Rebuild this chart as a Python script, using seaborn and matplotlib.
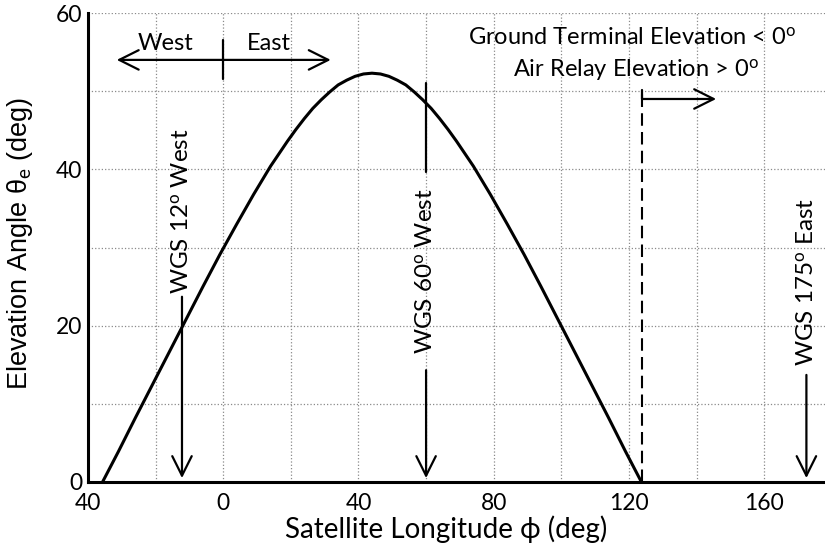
import matplotlib
matplotlib.use("Agg")
import matplotlib.pyplot as plt
import seaborn as sns

# ---- data ----
longitude = [-35.7, -31, -26, -21, -16, -11, -6, -1, 4, 9, 14, 19, 21.5, 24, 26.5, 29, 31.5, 34, 36.5,
             39, 41.5, 44, 46.5, 49, 51.5, 54, 56.5, 59, 61.5, 64, 66.5, 69, 74, 79, 84, 89, 94, 99,
             104, 109, 114, 119, 123.7]
elevation = [0, 3.9, 8.2, 12.4, 16.6, 20.8, 25.0, 29.1, 33.0, 36.8, 40.4, 43.6, 45.1, 46.5, 47.8, 48.9,
             49.9, 50.8, 51.4, 51.9, 52.2, 52.3, 52.2, 51.9, 51.4, 50.8, 49.9, 48.9, 47.8, 46.5, 45.1,
             43.6, 40.4, 36.8, 33.0, 29.1, 25.0, 20.8, 16.6, 12.4, 8.2, 3.9, 0]

x_ticks = [-40, -20, 0, 20, 40, 60, 80, 100, 120, 140, 160]
x_tick_labels = ["40", "", "0", "", "40", "", "80", "", "120", "", "160"]
y_ticks = [0, 10, 20, 30, 40, 50, 60]
y_tick_labels = ["0", "", "20", "", "40", "", "60"]

sat_names = ["WGS 12$^\\mathrm{o}$ West", "WGS 60$^\\mathrm{o}$ West", "WGS 175$^\\mathrm{o}$ East"]
sat_lon = [-12.2, 60, 172.5]
sat_text_bottom = [24.0, 16.4, 14.8]
sat_arrow_top = [23.7, 14.3, 13.7]
wgs60_marker = [39.7, 51.0]

horizon_lon = 123.9
horizon_top = 50.2
relay_arrow = [123.9, 145.8, 49.0]
we_arrow = [-31.5, 31.8, 54.0]
we_divider = [51.5, 56.5]

# ---- style ----
sns.set_theme(style="white")
plt.rcParams["font.family"] = ["Lato", "DejaVu Sans"]
plt.rcParams["mathtext.fontset"] = "custom"
plt.rcParams["mathtext.rm"] = "Lato"
plt.rcParams["mathtext.it"] = "Lato:italic"

fig = plt.figure(figsize=(8.25, 5.46), dpi=100)
ax = fig.add_axes([88 / 825, 1 - 482 / 546, (825 - 88) / 825, (482 - 13) / 546])

sns.lineplot(x=longitude, y=elevation, ax=ax, color="black", lw=2.2, sort=False)

ax.set_xlim(-40, 178)
ax.set_ylim(0, 60)
ax.set_xticks(x_ticks)
ax.set_xticklabels(x_tick_labels)
ax.set_yticks(y_ticks)
ax.set_yticklabels(y_tick_labels)
ax.grid(True, linestyle=":", color="#8a8a8a", lw=0.9)
ax.set_axisbelow(True)
for s in ["top", "right"]:
    ax.spines[s].set_visible(False)
for s in ["left", "bottom"]:
    ax.spines[s].set_color("black")
    ax.spines[s].set_linewidth(2.2)
ax.tick_params(direction="in", length=6, width=2, colors="black", labelsize=16.5, pad=4)
ax.tick_params(axis="x", pad=8)

ax.set_xlabel("Satellite Longitude ϕ (deg)", fontsize=20, color="black")
ax.xaxis.set_label_coords((446 - 88) / (825 - 88), -(529 - 482) / (482 - 13), transform=ax.transAxes)
ax.xaxis.label.set_va("center")
ax.set_ylabel("Elevation Angle θ$_\\mathrm{e}$ (deg)", fontsize=19.5,
              family=["Liberation Sans", "DejaVu Sans"], color="black")
ax.yaxis.set_label_coords(-(88 - 20) / (825 - 88), (482 - 243) / (482 - 13), transform=ax.transAxes)
ax.yaxis.label.set_va("center")

arrow_kw = dict(arrowstyle="->,head_length=0.7,head_width=0.35", lw=1.6, color="black",
                mutation_scale=20, shrinkA=0, shrinkB=0)

# West / East arrow
ax.annotate("", xy=(we_arrow[0], we_arrow[2]), xytext=(0, we_arrow[2]), arrowprops=arrow_kw)
ax.annotate("", xy=(we_arrow[1], we_arrow[2]), xytext=(0, we_arrow[2]), arrowprops=arrow_kw)
ax.plot([0, 0], we_divider, color="black", lw=1.6)
ax.text(-17, 54.8, "West", fontsize=17, ha="center", va="bottom", color="black")
ax.text(13.5, 54.8, "East", fontsize=17, ha="center", va="bottom", color="black")

# horizon
ax.plot([horizon_lon, horizon_lon], [0, horizon_top], color="black", lw=1.5, dashes=(6, 3))
ax.plot([relay_arrow[0], relay_arrow[0]], [relay_arrow[2], horizon_top], color="black", lw=1.6)
ax.annotate("", xy=(relay_arrow[1], relay_arrow[2]), xytext=(relay_arrow[0], relay_arrow[2]),
            arrowprops=arrow_kw)
ax.text(121, 56.8, "Ground Terminal Elevation < 0$^\\mathrm{o}$", fontsize=17, ha="center",
        va="center", color="black")
ax.text(122, 52.7, "Air Relay Elevation > 0$^\\mathrm{o}$", fontsize=17, ha="center",
        va="center", color="black")

# satellites
for name, lon, tb, at in zip(sat_names, sat_lon, sat_text_bottom, sat_arrow_top):
    ax.text(lon, tb, name, rotation=90, fontsize=17.5, ha="center", va="bottom", color="black")
    ax.annotate("", xy=(lon, 0.5), xytext=(lon, at), arrowprops=arrow_kw)
ax.plot([sat_lon[1], sat_lon[1]], wgs60_marker, color="black", lw=1.6)

fig.savefig("out.png", dpi=100)
